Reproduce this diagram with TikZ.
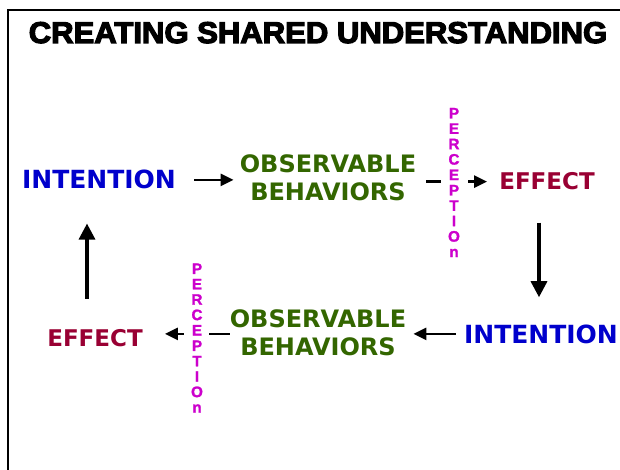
\documentclass[tikz,border=0pt]{standalone}
\usepackage{fontspec}
\usepackage{graphicx}
\setmainfont{DejaVu Sans}
\newfontfamily\titlefont[FakeBold=4]{Liberation Sans Bold}
\newfontfamily\percfont[FakeBold=1.5]{Liberation Sans Bold}
\usetikzlibrary{arrows.meta}
\definecolor{intblue}{RGB}{0,0,204}
\definecolor{obsgreen}{RGB}{51,102,0}
\definecolor{effred}{RGB}{153,0,51}
\definecolor{percmag}{RGB}{204,0,204}
\tikzset{
  word/.style={inner sep=0pt, font=\bfseries\fontsize{24}{28}\selectfont},
  intent/.style={word, text=intblue, anchor=base, font=\bfseries\fontsize{25}{28}\selectfont},
  observe/.style={word, text=obsgreen, align=center},
  effect/.style={word, text=effred, anchor=base, font=\bfseries\fontsize{23}{28}\selectfont},
  percept/.style={inner sep=0pt, text=percmag, align=center,
    font=\percfont\fontsize{15.2}{15.4}\selectfont},
  harrow/.style={line width=2.6pt, -{Triangle[length=13pt,width=12pt]}},
  varrow/.style={line width=3.2pt, -{Triangle[length=16pt,width=16pt]}},
  dashseg/.style={line width=2.6pt},
  frame/.style={line width=2pt}
}
\begin{document}
\begin{tikzpicture}[x=1pt,y=-1pt]
\useasboundingbox (0,0) rectangle (620,470);
% frame lines along the top and left side
\draw[frame] (8,470) -- (8,10) -- (620,10);
% heading
\node[inner sep=0pt, anchor=base] (title) at (318,43)
  {\scalebox{1.035}[1]{\titlefont\fontsize{30}{32}\selectfont CREATING SHARED UNDERSTANDING}};
% upper row
\node[intent] (int1) at (99,189) {INTENTION};
\node[observe] (obs1) at (328,178) {OBSERVABLE\\BEHAVIORS};
\node[percept] (perc1) at (454,182.5) {P\\E\\R\\C\\E\\P\\T\\I\\O\\n};
\node[effect] (eff1) at (547,190) {EFFECT};
% lower row
\node[intent] (int2) at (541,343) {INTENTION};
\node[observe] (obs2) at (318,333) {OBSERVABLE\\BEHAVIORS};
\node[percept] (perc2) at (197,338) {P\\E\\R\\C\\E\\P\\T\\I\\O\\n};
\node[effect] (eff2) at (95,346) {EFFECT};
% upper row connectors
\draw[harrow, shorten <=18pt, shorten >=6pt] (int1.east) -- (int1.east -| obs1.west);
\draw[dashseg, shorten <=10pt, shorten >=7pt] (obs1.east |- eff1.west) -- (perc1.west |- eff1.west);
\draw[harrow, shorten <=8pt, shorten >=12pt] (perc1.east |- eff1.west) -- (eff1.west);
% right side, downward
\draw[varrow, shorten <=32pt, shorten >=27pt] (eff1.center |- eff1.south) ++(-8,0) coordinate (d1) -- (d1 |- int2.north);
% lower row connectors
\draw[harrow, shorten <=8pt, shorten >=7pt] (int2.west) -- (int2.west -| obs2.east);
\draw[dashseg, shorten <=0pt, shorten >=6pt] (obs2.west |- int2.west) -- (perc2.east |- int2.west);
\draw[harrow, shorten <=7pt, shorten >=22pt] (perc2.west |- int2.west) -- (eff2.east |- int2.west);
% left side, upward
\draw[varrow, shorten <=30pt, shorten >=34pt] (eff2.north) ++(-8,0) coordinate (u1) -- (u1 |- int1.south);
\end{tikzpicture}
\end{document}
